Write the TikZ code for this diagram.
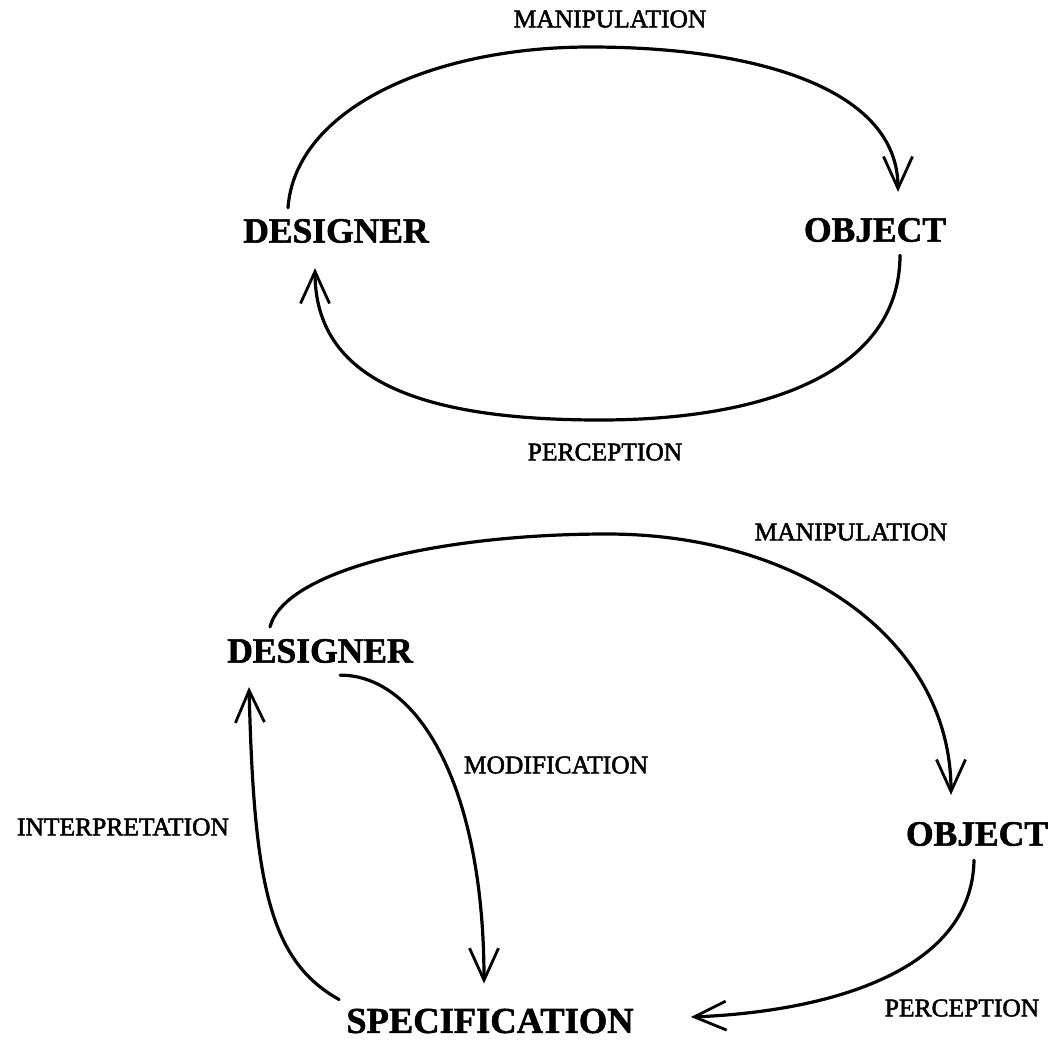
\documentclass[tikz,border=0pt]{standalone}
\usepackage{fontspec}
\setmainfont{Liberation Serif}
\newfontfamily\labelfont[FakeBold=2]{Liberation Serif}
\newfontfamily\entityfont[FakeBold=1.5]{Liberation Serif Bold}
\usetikzlibrary{arrows.meta,calc}

\begin{document}
\begin{tikzpicture}[x=1pt,y=-1pt,
  entity/.style={inner sep=0pt,font=\entityfont\fontsize{35.5}{36}\selectfont},
  bigentity/.style={inner sep=0pt,font=\entityfont\fontsize{36.5}{38}\selectfont},
  flowlabel/.style={inner sep=0pt,font=\labelfont\fontsize{25.5}{27}\selectfont},
  flow/.style={line width=3.2pt,line cap=round,
    -{Straight Barb[length=32pt,width=29pt,line width=2.8pt]}}]
\useasboundingbox (0,0) rectangle (1055,1042);

% --- simple loop: designer <-> object ---
\node[entity] (d1) at (336,231) {DESIGNER};
\node[entity] (o1) at (875,230) {OBJECT};
\node[flowlabel] (m1) at (610,19) {MANIPULATION};
\node[flowlabel] (p1) at (605,452) {PERCEPTION};

\draw[flow] ($(d1.north)+(-48,-11)$) .. controls (295,110) and (430,47) .. (590,47)
  .. controls (760,47) and (898,90) .. ($(o1.north)+(23,-26)$);
\draw[flow] ($(o1.south)+(25,13)$) .. controls (900,370) and (770,420) .. (600,420)
  .. controls (420,420) and (315,380) .. ($(d1.south)+(-21,25)$);

% --- loop through a specification ---
\node[entity] (d2) at (320,651) {DESIGNER};
\node[entity] (o2) at (977,834) {OBJECT};
\node[bigentity] (sp) at (490,1021) {SPECIFICATION};
\node[flowlabel] (m2) at (851,532) {MANIPULATION};
\node[flowlabel] (mod) at (556,765) {MODIFICATION};
\node[flowlabel] (int) at (123,827) {INTERPRETATION};
\node[flowlabel] (p2) at (962,1008) {PERCEPTION};

\draw[flow] ($(d2.north)+(-50,-12)$) .. controls (285,570) and (440,534) .. (607,534)
  .. controls (800,534) and (951,640) .. ($(o2.north)+(-26,-27)$);
\draw[flow] ($(d2.south)+(20,12)$) .. controls (420,675) and (484,790) .. ($(sp.north)+(-6,-25)$);
\draw[flow] ($(sp.north west)+(-7,-9)$) .. controls (268,960) and (254,880) .. ($(d2.south)+(-71,24)$);
\draw[flow] ($(o2.south)+(-3,14)$) .. controls (972,975) and (820,1012) .. ($(sp.east)+(57,-4)$);
\end{tikzpicture}
\end{document}
